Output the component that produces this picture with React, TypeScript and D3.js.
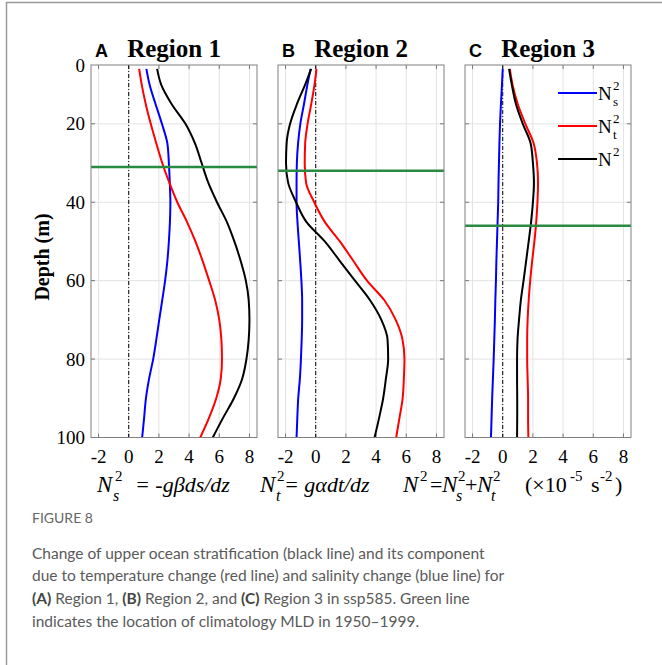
import React, { useRef, useEffect } from 'react';
import * as d3 from 'd3';

// depth levels (m) shared by all profiles
const depths = [6, 10, 15, 20, 25, 30, 35, 40, 45, 50, 55, 60, 65, 70, 75, 80, 85, 90, 95, 100];

const regionNames = ['Region 1', 'Region 2', 'Region 3'];
const panelLetters = ['A', 'B', 'C'];

// N_s^2, N_t^2, N^2 change (x10^-5 s^-2)
const nsRegion1 = [1.17, 1.38, 1.78, 2.2, 2.56, 2.66, 2.72, 2.76, 2.73, 2.66, 2.56, 2.41, 2.22, 2.02, 1.83, 1.62, 1.35, 1.14, 1.02, 0.89];
const ntRegion1 = [0.69, 0.86, 1.13, 1.46, 1.83, 2.22, 2.69, 3.22, 3.86, 4.42, 4.9, 5.33, 5.73, 6.0, 6.14, 6.18, 6.1, 5.8, 5.32, 4.74];
const n2Region1 = [1.88, 2.15, 2.85, 3.76, 4.39, 4.83, 5.27, 5.85, 6.5, 7.0, 7.42, 7.76, 7.95, 8.0, 7.95, 7.8, 7.52, 6.97, 6.25, 5.57];

const nsRegion2 = [-0.34, -0.55, -0.78, -1.02, -1.17, -1.25, -1.27, -1.27, -1.21, -1.12, -1.03, -0.95, -0.9, -0.9, -0.93, -0.98, -1.05, -1.16, -1.22, -1.27];
const ntRegion2 = [0.05, -0.08, -0.3, -0.54, -0.7, -0.73, -0.64, -0.1, 0.6, 1.6, 2.5, 3.4, 4.55, 5.3, 5.75, 5.88, 5.84, 5.76, 5.55, 5.33];
const n2Region2 = [-0.3, -0.7, -1.25, -1.7, -1.93, -1.97, -1.83, -1.3, -0.62, 0.6, 1.6, 2.6, 3.6, 4.35, 4.76, 4.8, 4.65, 4.47, 4.2, 3.9];

const nsRegion3 = [0, -0.05, -0.12, -0.18, -0.22, -0.25, -0.28, -0.3, -0.34, -0.38, -0.42, -0.45, -0.49, -0.52, -0.56, -0.6, -0.65, -0.7, -0.74, -0.78];
const ntRegion3 = [0.47, 0.65, 1.0, 1.5, 2.05, 2.27, 2.34, 2.3, 2.22, 2.1, 1.95, 1.82, 1.72, 1.65, 1.62, 1.62, 1.65, 1.68, 1.68, 1.7];
const n2Region3 = [0.42, 0.6, 0.88, 1.33, 1.85, 2.0, 2.07, 2.0, 1.88, 1.72, 1.55, 1.38, 1.2, 1.08, 0.98, 0.95, 0.95, 0.96, 0.96, 0.95];

// climatological MLD (m), 1950-1999
const mldDepths = [31, 32, 46];

const xTicks = [-2, 0, 2, 4, 6, 8];
const yTicks = [5, 20, 40, 60, 80, 100];
const yTickLabels = ['0', '20', '40', '60', '80', '100'];

const captionLines = [
  [{ t: 'Change of upper ocean stratification (black line) and its component' }],
  [{ t: 'due to temperature change (red line) and salinity change (blue line) for' }],
  [{ t: '(A)', b: true }, { t: ' Region 1, ' }, { t: '(B)', b: true }, { t: ' Region 2, and ' }, { t: '(C)', b: true }, { t: ' Region 3 in ssp585. Green line' }],
  [{ t: 'indicates the location of climatology MLD in 1950\u20131999.' }],
];

const SERIF = '"Liberation Serif", "Times New Roman", serif';
const SANS = '"Liberation Sans", Arial, sans-serif';
const CAP = 'Lato, "Open Sans", sans-serif';

const App = () => {
  const svgRef = useRef(null);

  useEffect(() => {
    const svg = d3.select(svgRef.current);
    svg.selectAll('*').remove();

    const width = 662;
    const height = 665;
    const top = 65;
    const bottom = 437.5;
    const panelW = 166;
    const lefts = [91, 278, 465];

    const series = [
      [nsRegion1, ntRegion1, n2Region1],
      [nsRegion2, ntRegion2, n2Region2],
      [nsRegion3, ntRegion3, n2Region3],
    ];
    const colors = ['#0000ff', '#ff0000', '#000000'];

    svg.attr('width', width).attr('height', height);
    svg.append('rect').attr('width', width).attr('height', height).attr('fill', '#fff');

    // figure frame
    svg.append('path')
      .attr('d', `M6.5,${height}V2.5H${width}`)
      .attr('fill', 'none')
      .attr('stroke', '#9a9a9a')
      .attr('stroke-width', 1.5);

    const y = d3.scaleLinear().domain([5, 100]).range([top, bottom]);

    lefts.forEach((left, p) => {
      const x = d3.scaleLinear().domain([-2.5, 8.5]).range([left, left + panelW]);
      const g = svg.append('g');

      // grid
      g.selectAll('.vgrid').data(xTicks).join('line')
        .attr('x1', d => x(d)).attr('x2', d => x(d))
        .attr('y1', top).attr('y2', bottom)
        .attr('stroke', '#e3e3e3').attr('stroke-width', 1);
      g.selectAll('.hgrid').data(yTicks.slice(1, -1)).join('line')
        .attr('class', 'hgrid')
        .attr('x1', left).attr('x2', left + panelW)
        .attr('y1', d => y(d)).attr('y2', d => y(d))
        .attr('stroke', '#e3e3e3').attr('stroke-width', 1);

      // tick marks, inside, on all four sides
      const tl = 4;
      xTicks.forEach(t => {
        g.append('line').attr('x1', x(t)).attr('x2', x(t)).attr('y1', top).attr('y2', top + tl).attr('stroke', '#777');
        g.append('line').attr('x1', x(t)).attr('x2', x(t)).attr('y1', bottom).attr('y2', bottom - tl).attr('stroke', '#777');
      });
      yTicks.slice(1, -1).forEach(t => {
        g.append('line').attr('x1', left).attr('x2', left + tl).attr('y1', y(t)).attr('y2', y(t)).attr('stroke', '#777');
        g.append('line').attr('x1', left + panelW).attr('x2', left + panelW - tl).attr('y1', y(t)).attr('y2', y(t)).attr('stroke', '#777');
      });

      // zero line
      g.append('line')
        .attr('x1', x(0)).attr('x2', x(0))
        .attr('y1', top).attr('y2', bottom)
        .attr('stroke', '#000').attr('stroke-width', 1)
        .attr('stroke-dasharray', '4,2,1,2');

      // profiles
      const line = d3.line<number>()
        .x(d => x(d))
        .y((_, i) => y(depths[i]))
        .curve(d3.curveMonotoneY);

      series[p].forEach((vals, k) => {
        g.append('path')
          .datum(vals)
          .attr('fill', 'none')
          .attr('stroke', colors[k])
          .attr('stroke-width', 2)
          .attr('d', line);
      });

      // MLD
      g.append('line')
        .attr('x1', left).attr('x2', left + panelW)
        .attr('y1', y(mldDepths[p])).attr('y2', y(mldDepths[p]))
        .attr('stroke', '#2b8a42').attr('stroke-width', 2.5);

      // box
      g.append('rect')
        .attr('x', left).attr('y', top)
        .attr('width', panelW).attr('height', bottom - top)
        .attr('fill', 'none').attr('stroke', '#808080').attr('stroke-width', 1);

      // x tick labels
      g.selectAll('.xl').data(xTicks).join('text')
        .attr('x', d => x(d)).attr('y', 463)
        .attr('text-anchor', 'middle')
        .attr('font-family', SERIF).attr('font-size', 19)
        .text(d => d);

      // titles
      g.append('text')
        .attr('x', left + 4).attr('y', 56.5)
        .attr('font-family', SANS).attr('font-weight', 'bold').attr('font-size', 18)
        .text(panelLetters[p]);
      g.append('text')
        .attr('x', left + panelW / 2).attr('y', 56.5)
        .attr('text-anchor', 'middle')
        .attr('font-family', SERIF).attr('font-weight', 'bold').attr('font-size', 25)
        .text(regionNames[p]);

      if (p === 0) {
        g.selectAll('.yl').data(yTicks).join('text')
          .attr('x', left - 6).attr('y', d => y(d))
          .attr('dy', '0.35em')
          .attr('text-anchor', 'end')
          .attr('font-family', SERIF).attr('font-size', 19)
          .text((_, i) => yTickLabels[i]);
      }

      if (p === 2) {
        const legY = [93, 126, 159];
        const subs = ['s', 't', ''];
        legY.forEach((ly, k) => {
          g.append('line')
            .attr('x1', 558).attr('x2', 597)
            .attr('y1', ly).attr('y2', ly)
            .attr('stroke', colors[k]).attr('stroke-width', 2);
          g.append('text').attr('x', 598).attr('y', ly + 7)
            .attr('font-family', SERIF).attr('font-size', 19).text('N');
          g.append('text').attr('x', 613).attr('y', ly - 3)
            .attr('font-family', SERIF).attr('font-size', 13).text('2');
          if (subs[k]) {
            g.append('text').attr('x', 613).attr('y', ly + 13)
              .attr('font-family', SERIF).attr('font-size', 13).text(subs[k]);
          }
        });
      }
    });

    // y label
    svg.append('text')
      .attr('transform', 'translate(49,257) rotate(-90)')
      .attr('text-anchor', 'middle')
      .attr('font-family', SERIF).attr('font-weight', 'bold').attr('font-size', 20)
      .text('Depth (m)');

    // formula line under the panels
    const fy = 491.5;
    const put = (tx, ty, s, size, italic) => {
      svg.append('text')
        .attr('x', tx).attr('y', ty)
        .attr('font-family', SERIF).attr('font-size', size)
        .attr('font-style', italic ? 'italic' : 'normal')
        .text(s);
    };
    // N_s^2
    put(97, fy, 'N', 23, true);
    put(115, fy - 11, '2', 15, false);
    put(113, fy + 9, 's', 16, true);
    put(135, fy, '= -g\u03b2ds/dz', 22, true);
    // N_t^2
    put(260, fy, 'N', 23, true);
    put(277, fy - 11, '2', 15, false);
    put(276, fy + 9, 't', 16, true);
    put(284, fy, '= g\u03b1dt/dz', 22, true);
    // N^2 = Ns^2 + Nt^2
    put(403, fy, 'N', 23, true);
    put(420, fy - 11, '2', 15, false);
    put(430, fy, '=', 22, false);
    put(442, fy, 'N', 23, true);
    put(458, fy - 11, '2', 15, false);
    put(456, fy + 9, 's', 16, true);
    put(465, fy, '+', 22, false);
    put(477, fy, 'N', 23, true);
    put(493, fy - 11, '2', 15, false);
    put(491, fy + 9, 't', 16, true);
    put(525, fy, '(\u00d710', 22, false);
    put(570, fy - 11, '-5', 15, false);
    put(591, fy, 's', 22, false);
    put(600, fy - 11, '-2', 15, false);
    put(615, fy, ')', 22, false);

    // caption
    svg.append('text')
      .attr('x', 32).attr('y', 522.5)
      .attr('font-family', CAP).attr('font-size', 14)
      .attr('fill', '#666')
      .text('FIGURE 8');

    captionLines.forEach((parts, i) => {
      const t = svg.append('text')
        .attr('x', 32).attr('y', 558.5 + i * 22.7)
        .attr('font-family', CAP).attr('font-size', 15.5)
        .attr('fill', '#5a5a5a');
      parts.forEach(part => {
        t.append('tspan')
          .attr('font-weight', part.b ? 'bold' : null)
          .attr('fill', part.b ? '#444' : null)
          .text(part.t);
      });
    });
  }, []);

  return (
    <div>
      <svg ref={svgRef} style={{ position: 'absolute', left: 0, top: 0 }} />
    </div>
  );
};

export default App;
